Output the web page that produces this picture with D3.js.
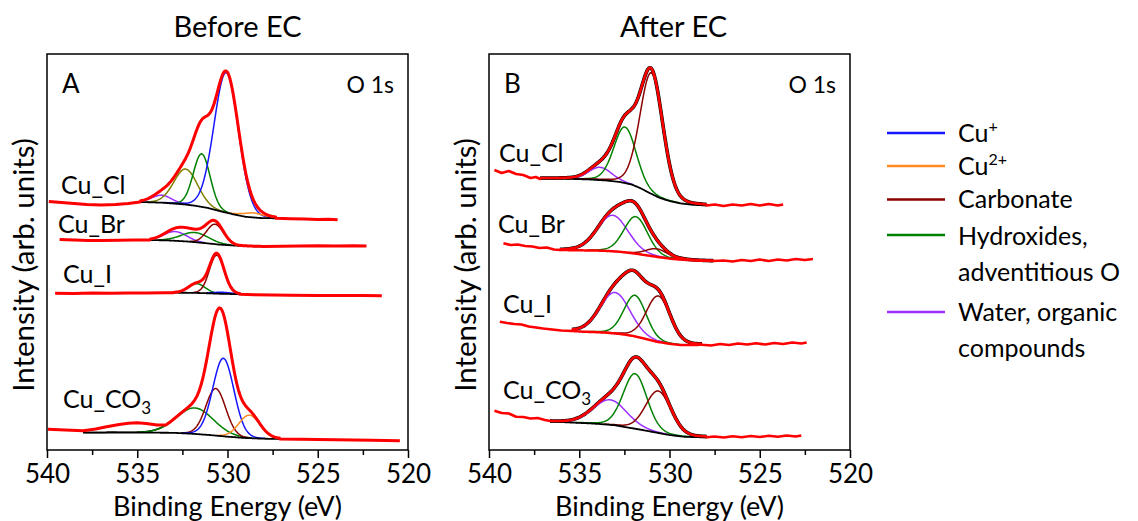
<!DOCTYPE html>
<html>
<head>
<meta charset="utf-8">
<script src="https://cdn.jsdelivr.net/npm/d3@7"></script>
<style>
body {margin:0; background:#fff}
text {font-family: Lato, "Open Sans", sans-serif; fill:#000}
</style>
</head>
<body>
<svg id="chart" width="1138" height="521"></svg>
<script>
var panelTitles = ["Before EC", "After EC"]
var panelLetters = ["A", "B"]
var sampleNames = ["Cu_Cl", "Cu_Br", "Cu_I", "Cu_CO3"]
var xTicks = [540, 535, 530, 525, 520]
var xMinorTicks = [537.5, 532.5, 527.5, 522.5]
var glMix = [0.05, 0.12]

var componentNames = ["Cu+", "Cu2+", "Carbonate", "Hydroxides", "Hydroxides2", "Water"]
var componentColors = ["#1515ff", "#ff8a1f", "#8b0000", "#008000", "#808000", "#9b30ff"]
var legendNames = ["Cu+", "Cu2+", "Carbonate", "Hydroxides", "Water"]

// before EC : [binding energy, intensity]
var aClLeft = [[539.9,248.5],[539.2,247.5],[538.5,246.5],[537.8,245.5],[537,245],[536.2,245.5],[535.5,246.5],[534.85,248]]
var aClBg = [[534.85,248],[533.6,247.3],[532.45,245.7],[531.8,244.3],[531.15,242.3],[530.4,238.8],[529.68,235.7],[529,233.2],[528.2,232],[527.3,231.7]]
var aClRight = [[527.3,231.7],[526.5,231.2],[525.7,231],[525,230.6],[524.4,230.8],[523.9,230.3]]
var aClPeaks = [["Water",533.65,7.5,1.3],["Hydroxides2",532.32,35.5,1.55],["Hydroxides",531.43,53,1.1],["Cu+",530.07,140,1.6],["Cu2+",528.57,4.5,1.4]]

var aBrLeft = [[539.3,210.5],[538.5,210],[537.7,209.5],[537,209.5],[536,209.8],[535.2,210],[534.3,210]]
var aBrBg = [[534.3,210],[533.2,209.5],[532.2,208.5],[531.3,207],[530.5,205.5],[529.5,204.3],[528.5,203.7],[528,203.5]]
var aBrRight = [[528,203.5],[527,203.8],[526,204],[525,204.2],[524,204],[523,204.2],[522.3,204]]
var aBrPeaks = [["Water",532.9,9.2,1.5],["Hydroxides",531.8,9.6,1.8],["Carbonate",530.69,20,1.1]]

var aILeft = [[539.55,156.7],[538.5,156.5],[537.5,157],[536.5,156.8],[535.5,157],[534.5,157],[533.5,157.3],[533,157.3]]
var aIBg = [[533,157.3],[532,157.2],[531.2,156.8],[530.5,156.3],[529.8,156],[529.3,155.7]]
var aIRight = [[529.3,155.7],[528.5,155.3],[527.5,155],[526.5,154.8],[525,154.5],[523.5,154.6],[522.5,154.4],[521.45,154.3]]
var aIPeaks = [["Hydroxides",531.7,9.2,1.1],["Carbonate",530.6,38.5,0.95],["Cu+",530.3,1.5,1.2]]

var aCo3Left = [[539.95,20.7],[539,20],[538,19.3],[537.3,21],[536.7,23.3],[536,25.5],[535.5,26.8],[535,27.3],[534.5,26.5],[533.9,25],[533.4,25]]
var aCo3Bg = [[538,17.3],[536.5,17.5],[535,17.4],[533,17.2],[532,16.3],[531,15],[530,13.3],[529,12],[528,11.3],[527.1,11]]
var aCo3Right = [[527.1,11],[526,10.7],[525,10.5],[524,10.2],[523,10],[522,9.7],[520.45,9.3]]
var aCo3Peaks = [["Hydroxides",531.8,26,2.4],["Carbonate",530.65,47,1.3],["Cu+",530.23,78,1.38],["Cu2+",528.79,23,1.38]]

// after EC
var bClLeft = [[539.7,280],[539.3,277],[538.9,279],[538.5,276],[538.1,275],[537.7,272],[537.4,273],[537.17,271]]
var bClBg = [[537.17,271.5],[535.8,271.3],[534.4,270.5],[533.5,269.5],[532.74,268],[532.1,265.5],[531.63,262],[531.1,257],[530.53,252],[530,249],[529.42,246.7],[528.7,245.2],[527.94,244.5]]
var bClRight = [[527.94,244.5],[527.5,245.5],[527,244],[526.5,245.5],[526,244.5],[525.5,246],[525,244.5],[524.5,246],[524,244.5],[523.7,245.5]]
var bClPeaks = [["Water",533.85,12.8,1.5],["Hydroxides",532.47,56,1.45],["Carbonate",531.0,121,1.5]]

var bBrLeft = [[539.2,206.7],[538.8,205],[538.4,205.5],[538,204],[537.6,203.5],[537.2,202],[536.8,202.5],[536.4,200.5],[536.07,200]]
var bBrBg = [[536.07,200],[535,199.7],[533.67,199.3],[532.8,198.3],[532,196.7],[531.2,194.5],[530.53,192.7],[529.8,191],[529.05,190],[528.3,189.3],[527.57,189]]
var bBrRight = [[527.57,189],[527,189.5],[526.5,188.5],[526,190],[525.5,189],[525,190.5],[524.5,189],[524,190.5],[523.5,189.5],[523,191],[522.5,190],[522.05,191]]
var bBrPeaks = [["Water",533.15,36,2.0],["Hydroxides",531.87,37,1.55],["Carbonate",530.71,8,1.4]]

var bILeft = [[539.4,128.3],[539,127],[538.6,126],[538.2,125.5],[537.8,123.5],[537.4,122.5],[537,121.5],[536.5,120.5],[536,119.5],[535.4,119]]
var bIBg = [[535.4,119],[534.8,118.3],[534,117.8],[533.48,117.3],[532.7,116],[532,114],[531.3,111],[530.71,108.3],[530,106.2],[529.42,105],[528.68,105],[528.2,105.2]]
var bIRight = [[528.2,105.2],[527.7,104.5],[527.2,106],[526.7,105],[526.2,106.5],[525.7,105.5],[525.2,106.8],[524.7,105.5],[524.2,107],[523.7,106],[523.2,107.5],[522.7,106.5],[522.4,107.5]]
var bIPeaks = [["Water",533.02,41,1.95],["Hydroxides",531.91,41,1.45],["Carbonate",530.62,46,1.55]]

var bCo3Left = [[539.7,39.3],[539.3,37],[538.9,36.5],[538.5,33.3],[538.1,33],[537.7,31.5],[537.3,32],[536.9,30],[536.62,29]]
var bCo3Bg = [[536.62,28.5],[535.5,27.5],[534.5,26.7],[533.85,26],[533,24.7],[532.37,22.7],[531.5,20],[530.71,17.3],[530,15],[529.24,13.3],[528.5,12.8],[527.94,12.7]]
var bCo3Right = [[527.94,12.7],[527.5,13.5],[527,12.5],[526.5,13.8],[526,12.8],[525.5,14],[525,13],[524.5,14.2],[524,13.2],[523.5,14.5],[523,13.5],[522.7,14.5]]
var bCo3Peaks = [["Water",533.3,25,2.2],["Hydroxides",531.91,55,1.55],["Carbonate",530.62,42,1.65]]

var spectra = [
    {panel:0, name:0, left:aClLeft, bg:aClBg, right:aClRight, peaks:aClPeaks, bgColor:"#000"},
    {panel:0, name:1, left:aBrLeft, bg:aBrBg, right:aBrRight, peaks:aBrPeaks, bgColor:"#000"},
    {panel:0, name:2, left:aILeft, bg:aIBg, right:aIRight, peaks:aIPeaks, bgColor:"#000"},
    {panel:0, name:3, left:aCo3Left, bg:aCo3Bg, right:aCo3Right, peaks:aCo3Peaks, bgColor:"#000"},
    {panel:1, name:0, left:bClLeft, bg:bClBg, right:bClRight, peaks:bClPeaks, bgColor:"#000"},
    {panel:1, name:1, left:bBrLeft, bg:bBrBg, right:bBrRight, peaks:bBrPeaks, bgColor:"#ff0000"},
    {panel:1, name:2, left:bILeft, bg:bIBg, right:bIRight, peaks:bIPeaks, bgColor:"#ff0000"},
    {panel:1, name:3, left:bCo3Left, bg:bCo3Bg, right:bCo3Right, peaks:bCo3Peaks, bgColor:"#000"}
]

var panelLeft = [47, 489]
var plotW = 361
var plotTop = 54
var plotBottom = 450
var labelPos = [[[61,194],[58,233],[63,283],[63,408]], [[499,162],[498,233],[503,313],[503,399]]]

var svg = d3.select('#chart')

var yScale = d3.scaleLinear()
    .domain([0, 396])
    .range([plotBottom, plotTop])

function peakValue(p, e, eta){
    var d = (e - p[1]) / p[3]
    return p[2] * ((1 - eta) * Math.exp(-4 * Math.LN2 * d * d) + eta / (1 + 4 * d * d))
}

function colorOf(name){
    return componentColors[componentNames.indexOf(name)]
}

function drawPanel(pi){
    var x0 = panelLeft[pi]
    var xScale = d3.scaleLinear()
	.domain([540, 520])
	.range([x0, x0 + plotW])
    var g = svg.append('g').attr('class', 'panel')

    var line = d3.line()
	.defined(function(d){return d[2] === undefined || d[2] > 0.35})
	.x(function(d){return xScale(d[0])})
	.y(function(d){return yScale(d[1])})

    spectra.filter(function(s){return s.panel == pi}).forEach(function(s){
	var bgScale = d3.scaleLinear()
	    .domain(s.bg.map(function(d){return d[0]}))
	    .range(s.bg.map(function(d){return d[1]}))
	var e0 = s.bg[0][0], e1 = s.bg[s.bg.length - 1][0]
	var grid = d3.range(e0, e1 - 0.001, -0.04).concat([e1])
	var env = grid.map(function(e){
	    return [e, bgScale(e) + d3.sum(s.peaks, function(p){return peakValue(p, e, glMix[pi])})]
	})
	var eLeft = s.left[s.left.length - 1][0], eRight = s.right[0][0]
	var red = s.left
	    .concat(env.filter(function(d){return d[0] < eLeft && d[0] > eRight}))
	    .concat(s.right)

	g.append('path')
	    .attr('d', line(env))
	    .attr('fill', 'none')
	    .attr('stroke', '#000')
	    .attr('stroke-width', pi == 0 ? 1.5 : 3.6)

	s.peaks.forEach(function(p){
	    var pts = grid.map(function(e){
		var v = peakValue(p, e, glMix[pi])
		return [e, bgScale(e) + v, v]
	    })
	    g.append('path')
		.attr('d', line(pts))
		.attr('fill', 'none')
		.attr('stroke', colorOf(p[0]))
		.attr('stroke-width', 1.5)
	})

	g.append('path')
	    .attr('d', line(grid.map(function(e){return [e, bgScale(e)]})))
	    .attr('fill', 'none')
	    .attr('stroke', s.bgColor)
	    .attr('stroke-width', s.bgColor == '#000' ? 1.8 : 2.5)

	g.append('path')
	    .attr('d', line(red))
	    .attr('fill', 'none')
	    .attr('stroke', '#ff0000')
	    .attr('stroke-width', pi == 0 ? 3 : 2.6)
	    .attr('stroke-linejoin', 'round')

	var lp = labelPos[pi][s.name]
	var t = g.append('text')
	    .attr('x', lp[0])
	    .attr('y', lp[1])
	    .attr('font-size', 25)
	var nm = sampleNames[s.name]
	if (nm == "Cu_CO3"){
	    t.text("Cu_CO")
	    t.append('tspan').attr('font-size', 17).attr('dy', 6).text("3")
	} else {
	    t.text(nm)
	}
    })

    g.append('rect')
	.attr('x', x0)
	.attr('y', plotTop)
	.attr('width', plotW)
	.attr('height', plotBottom - plotTop)
	.attr('fill', 'none')
	.attr('stroke', '#000')
	.attr('stroke-width', 1.5)

    var minor = g.append('g')
	.attr('transform', 'translate(0,' + plotBottom + ')')
	.call(d3.axisBottom(xScale).tickValues(xMinorTicks).tickSize(5).tickFormat(''))
    var major = g.append('g')
	.attr('transform', 'translate(0,' + plotBottom + ')')
	.call(d3.axisBottom(xScale).tickValues(xTicks).tickSize(8).tickPadding(6.5).tickFormat(d3.format('d')))
    g.selectAll('.domain').remove()
    g.selectAll('.tick line').attr('stroke', '#000').attr('stroke-width', 1.5)
    major.selectAll('text')
	.attr('font-size', 26)
	.style('font-family', 'Lato, sans-serif')

    g.append('text')
	.attr('x', x0 + plotW / 2)
	.attr('y', 516)
	.attr('text-anchor', 'middle')
	.attr('font-size', 27)
	.text('Binding Energy (eV)')

    g.append('text')
	.attr('transform', 'translate(' + (x0 - 13) + ',265) rotate(-90)')
	.attr('text-anchor', 'middle')
	.attr('font-size', 29.5)
	.text('Intensity (arb. units)')

    g.append('text')
	.attr('x', x0 + plotW / 2 + (pi == 0 ? 10 : 4))
	.attr('y', 37)
	.attr('text-anchor', 'middle')
	.attr('font-size', 29)
	.text(panelTitles[pi])

    g.append('text')
	.attr('x', x0 + 15)
	.attr('y', 93)
	.attr('font-size', 26)
	.text(panelLetters[pi])

    g.append('text')
	.attr('x', x0 + plotW - 14)
	.attr('y', 93)
	.attr('text-anchor', 'end')
	.attr('font-size', 23)
	.text('O 1s')
}

drawPanel(0)
drawPanel(1)

var legendY = [133, 166, 199.5, 235, 312]
var legend = svg.append('g')
legendNames.forEach(function(n, i){
    legend.append('line')
	.attr('x1', 887)
	.attr('x2', 945)
	.attr('y1', legendY[i])
	.attr('y2', legendY[i])
	.attr('stroke', colorOf(n))
	.attr('stroke-width', 2.5)
})
function legendText(y){
    return legend.append('text').attr('x', 958).attr('y', y).attr('font-size', 25)
}
var t1 = legendText(142)
t1.text('Cu')
t1.append('tspan').attr('font-size', 16).attr('dy', -10).text('+')
var t2 = legendText(175)
t2.text('Cu')
t2.append('tspan').attr('font-size', 16).attr('dy', -10).text('2+')
legendText(208).text('Carbonate')
legendText(245).text('Hydroxides,')
legendText(281).text('adventitious O')
legendText(321).text('Water, organic')
legendText(357).text('compounds')
</script>
</body>
</html>
